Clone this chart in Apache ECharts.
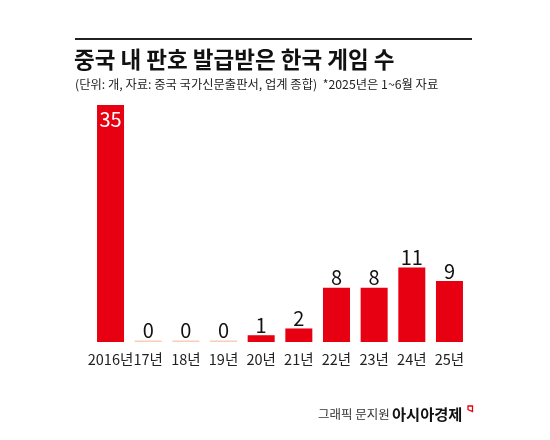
<!DOCTYPE html>
<html><head><meta charset="utf-8">
<script src="https://cdn.jsdelivr.net/npm/echarts@6/dist/echarts.min.js"></script>
<style>html,body{margin:0;padding:0;background:#fff}#c{width:550px;height:440px}</style>
</head><body><div id="c"></div>
<script>
const titleText = '중국 내 판호 발급받은 한국 게임 수';
const subtitleText = '(단위: 개, 자료: 중국 국가신문출판서, 업계 종합)  *2025년은 1~6월 자료';
const categories = ['2016년','17년','18년','19년','20년','21년','22년','23년','24년','25년'];
const values = [35, 0, 0, 0, 1, 2, 8, 8, 11, 9];
const creditLeft = '그래픽 문지원';
const creditRight = '아시아경제';

const FONT = '"Noto Sans CJK KR", "Noto Sans", sans-serif';
const maxVal = Math.max(...values);
const barData = values.map(v => v === maxVal ? {
  value: v,
  label: { position: 'insideTop', color: '#fff', distance: 4 }
} : { value: v });

const chart = echarts.init(document.getElementById('c'));
chart.setOption({
  animation: false,
  backgroundColor: '#fff',
  grid: { left: 91.7, right: 550 - 468.3, top: 105, bottom: 98, containLabel: false },
  xAxis: {
    type: 'category', data: categories,
    axisLine: { show: false }, axisTick: { show: false },
    axisLabel: { fontFamily: FONT, fontSize: 14.5, color: '#222', margin: 10, interval: 0 }
  },
  yAxis: { type: 'value', min: 0, max: 35, show: false, splitLine: { show: false } },
  series: [{
    type: 'bar', data: barData, barWidth: 27, barMinHeight: 1.5,
    itemStyle: { color: p => p.value === 0 ? '#f9cdb8' : '#e60012' },
    label: { show: true, position: 'top', distance: 0, fontFamily: FONT, fontSize: 20, color: '#111' }
  }],
  graphic: [
    { type: 'line', shape: { x1: 75, y1: 39, x2: 472, y2: 39 }, style: { stroke: '#222', lineWidth: 2 } },
    { type: 'text', x: 74, y: 59, style: { text: titleText, font: 'bold 22.5px ' + FONT, fill: '#111', textVerticalAlign: 'middle' } },
    { type: 'text', x: 75, y: 84, style: { text: subtitleText, font: '12.3px ' + FONT, fill: '#222', textVerticalAlign: 'middle' } },
    { type: 'text', x: 318, y: 414, style: { text: creditLeft, font: '12.5px ' + FONT, fill: '#333', textVerticalAlign: 'middle' } },
    { type: 'text', x: 392, y: 414, style: { text: creditRight, font: 'bold 15.3px ' + FONT, fill: '#111', textVerticalAlign: 'middle' } },
    { type: 'polygon', shape: { points: [[468, 406], [472.5, 406], [472.5, 411.5], [468, 409.5]] }, style: { stroke: '#e60012', lineWidth: 1.3, fill: 'none' } }
  ]
});
</script></body></html>
